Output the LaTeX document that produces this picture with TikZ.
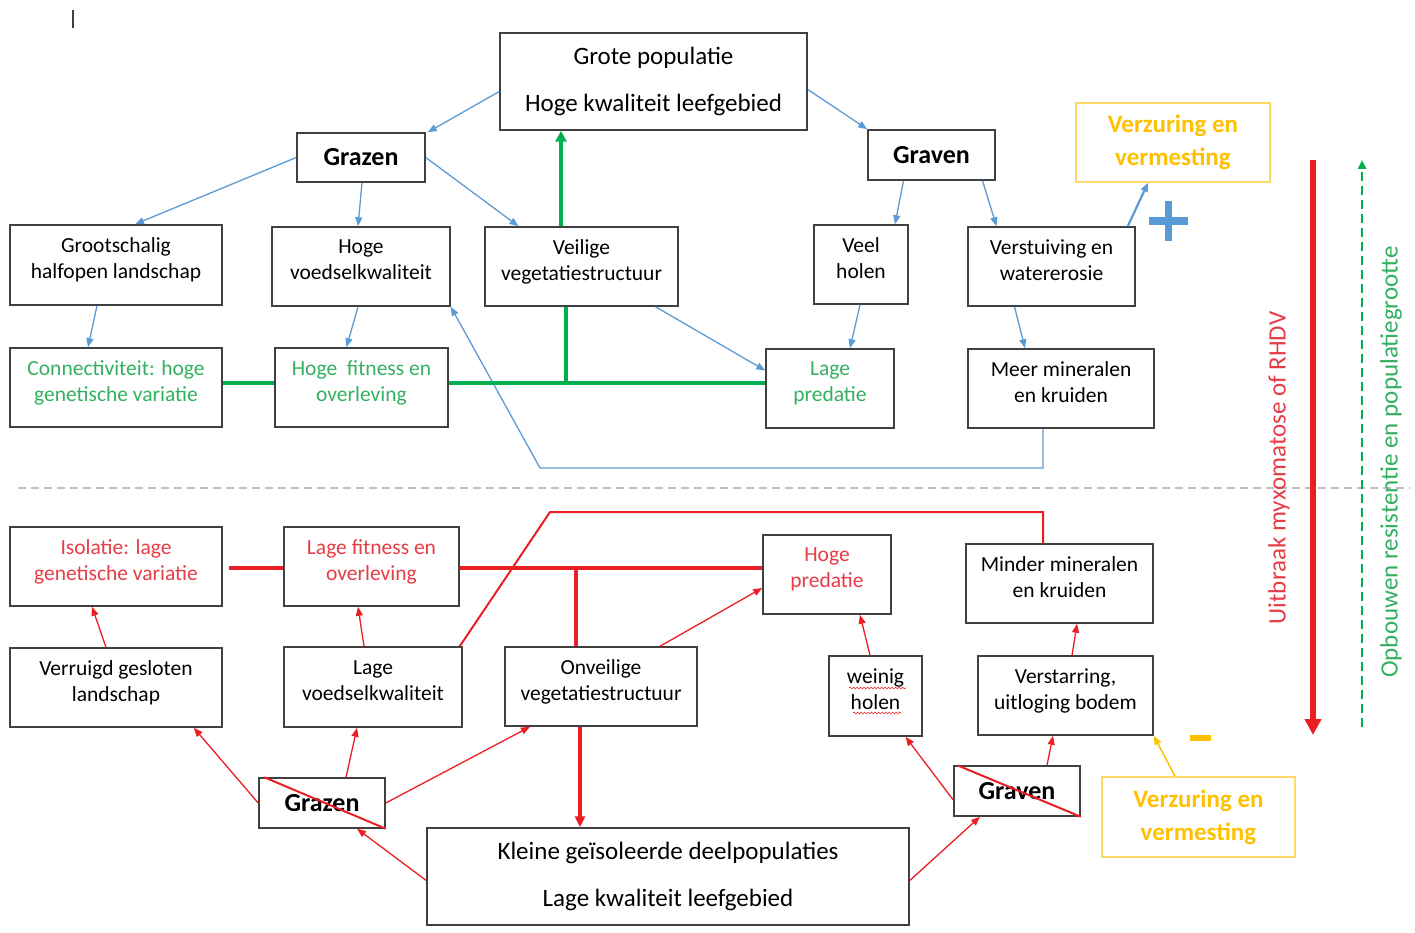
\documentclass[tikz,border=0pt]{standalone}
\usepackage{fontspec}
\setmainfont{Carlito}
\usetikzlibrary{arrows.meta,decorations.pathmorphing}
\definecolor{boxc}{RGB}{64,64,64}
\definecolor{bl}{RGB}{91,155,213}
\definecolor{grl}{RGB}{0,176,80}
\definecolor{grt}{RGB}{50,176,96}
\definecolor{rdl}{RGB}{235,30,35}
\definecolor{rdt}{RGB}{230,60,70}
\definecolor{yt}{RGB}{255,192,0}
\definecolor{yb}{RGB}{255,217,102}
\tikzset{
  box/.style={draw=boxc, line width=1.5pt, align=center, inner sep=0pt, font=\fontsize{21.5}{26}\selectfont,
    execute at end node={\rule[-13pt]{0pt}{1pt}}},
  bigbox/.style={draw=boxc, line width=1.5pt, align=center, inner sep=0pt, font=\fontsize{25}{47}\selectfont},
  boldbox/.style={draw=boxc, line width=1.5pt, align=center, inner sep=0pt, font=\bfseries\fontsize{26}{28}\selectfont},
  ybox/.style={draw=yb, line width=1.5pt, align=center, inner sep=0pt, text=yt, font=\bfseries\fontsize{25}{33}\selectfont},
  barrow/.style={draw=bl, line width=1.3pt, -{Triangle[length=9pt,width=7pt]}},
  rarrow/.style={draw=rdl, line width=1.3pt, -{Triangle[length=9pt,width=7pt]}},
  gthick/.style={draw=grl, line width=4pt},
  rthick/.style={draw=rdl, line width=4pt},
  crossline/.style={draw=rdl, line width=2pt},
  wavy/.style={draw=rdl, line width=0.6pt, decorate, decoration={snake, amplitude=0.9pt, segment length=3.5pt}},
}
\begin{document}
\begin{tikzpicture}[x=1pt,y=-1pt]
\useasboundingbox (0,0) rectangle (1415,933);
% cursor mark
\draw[line width=1.8pt, boxc] (73,10) -- (73,28);
% separator
\draw[gray!50, line width=1.2pt, dash pattern=on 8pt off 5pt] (18,488) -- (1410,488);

% ---------- top half ----------
\node[bigbox, minimum width=307pt, minimum height=97pt] (grote) at (653.5,81.5) {Grote populatie\\Hoge kwaliteit leefgebied};
\node[boldbox, minimum width=128pt, minimum height=49pt] (grazenT) at (361,157.5) {Grazen};
\node[boldbox, minimum width=127pt, minimum height=50pt] (gravenT) at (931.5,155) {Graven};
\node[ybox, minimum width=194pt, minimum height=79pt] (verzT) at (1173,142.5) {Verzuring en\\vermesting};
\node[box, minimum width=212pt, minimum height=80pt] (groot) at (116,265) {Grootschalig\\halfopen landschap};
\node[box, minimum width=178pt, minimum height=79pt] (hvoed) at (361,266.5) {Hoge\\voedselkwaliteit};
\node[box, minimum width=193pt, minimum height=79pt] (veilig) at (581.5,266.5) {Veilige\\vegetatiestructuur};
\node[box, minimum width=94pt, minimum height=79pt] (veel) at (861,264.5) {Veel\\holen};
\node[box, minimum width=167pt, minimum height=79pt] (verst) at (1051.5,266.5) {Verstuiving en\\watererosie};
\node[box, text=grt, minimum width=212pt, minimum height=79pt] (conn) at (116,387.5) {Connectiviteit: hoge\\genetische variatie};
\node[box, text=grt, minimum width=173pt, minimum height=79pt] (hfit) at (361.5,387.5) {Hoge~ fitness en\\overleving};
\node[box, text=grt, minimum width=128pt, minimum height=79pt] (lpred) at (830,388.5) {Lage\\predatie};
\node[box, minimum width=186pt, minimum height=79pt] (meer) at (1061,388.5) {Meer mineralen\\en kruiden};

% blue connectors
\draw[barrow] ([yshift=-10pt]grote.west) -- ([xshift=2pt]grazenT.north east);
\draw[barrow] ([yshift=-8pt]grote.east) -- (gravenT.north west);
\draw[barrow] (grazenT.west) -- ([xshift=19pt]groot.north);
\draw[barrow] ([xshift=1pt]grazenT.south) -- ([xshift=-3pt]hvoed.north);
\draw[barrow] (grazenT.east) -- ([xshift=-63pt]veilig.north);
\draw[barrow] ([xshift=-28pt]gravenT.south) -- ([xshift=34pt]veel.north);
\draw[barrow] ([xshift=51pt]gravenT.south) -- ([xshift=-55pt]verst.north);
\draw[barrow, line width=2.2pt] ([xshift=-8pt]verst.north east) -- ([xshift=-25pt]verzT.south);
\draw[barrow] ([xshift=-19pt]groot.south) -- ([xshift=-28pt]conn.north);
\draw[barrow] ([xshift=-3pt]hvoed.south) -- ([xshift=-15pt]hfit.north);
\draw[barrow] ([xshift=74pt]veilig.south) -- ([yshift=18pt]lpred.west);
\draw[barrow] ([xshift=-1pt]veel.south) -- ([xshift=20pt]lpred.north);
\draw[barrow] ([xshift=-37pt]verst.south) -- ([xshift=-36pt]meer.north);
\coordinate (rb1) at (1043,468);
\coordinate (rb2) at (540,468);
\draw[barrow] ([xshift=-18pt]meer.south) -- (rb1) -- (rb2) -- (hvoed.south east);

% green
\draw[gthick] ([yshift=4.5pt]conn.east) -- ([yshift=4.5pt]hfit.west);
\draw[gthick] ([yshift=4.5pt]hfit.east) -- ([yshift=5.5pt]lpred.west);
\draw[gthick] ([xshift=-15.5pt]veilig.south) -- ++(0,77);
\draw[draw=grl, line width=4pt, -{Triangle[length=11pt,width=11pt]}] ([xshift=-20.5pt]veilig.north) -- ([xshift=-92.5pt]grote.south);

% plus sign
\draw[bl, line width=7.5pt] (1149,221) -- (1188,221);
\draw[bl, line width=7.5pt] (1168.5,201) -- (1168.5,241);

% ---------- bottom half ----------
\node[box, text=rdt, minimum width=212pt, minimum height=79pt] (iso) at (116,566.5) {Isolatie: lage\\genetische variatie};
\node[box, text=rdt, minimum width=175pt, minimum height=79pt] (lfit) at (371.5,566.5) {Lage fitness en\\overleving};
\node[box, text=rdt, minimum width=128pt, minimum height=79pt] (hpred) at (827,574.5) {Hoge\\predatie};
\node[box, minimum width=187pt, minimum height=79pt] (minder) at (1059.5,583.5) {Minder mineralen\\en kruiden};
\node[box, minimum width=212pt, minimum height=79pt] (verr) at (116,687.5) {Verruigd gesloten\\landschap};
\node[box, minimum width=178pt, minimum height=80pt] (lvoed) at (373,687) {Lage\\voedselkwaliteit};
\node[box, minimum width=192pt, minimum height=79pt] (onv) at (601,686.5) {Onveilige\\vegetatiestructuur};
\node[box, minimum width=93pt, minimum height=80pt] (weinig) at (875.5,696) {weinig\\holen};
\node[box, minimum width=175pt, minimum height=79pt] (verstar) at (1065.5,695.5) {Verstarring,\\uitloging bodem};
\node[boldbox, minimum width=126pt, minimum height=50pt] (grazenB) at (322,803) {Grazen};
\node[boldbox, minimum width=126pt, minimum height=50pt] (gravenB) at (1017,791) {Graven};
\node[bigbox, minimum width=482pt, minimum height=97pt] (kleine) at (668,876.5) {Kleine geïsoleerde deelpopulaties\\Lage kwaliteit leefgebied};
\node[ybox, minimum width=193pt, minimum height=80pt] (verzB) at (1198.5,817) {Verzuring en\\vermesting};

% spell-check wavy underlines
\coordinate (w1a) at (849,688);
\coordinate (w1b) at (906,688);
\coordinate (w2a) at (853,713);
\coordinate (w2b) at (901,713);
\draw[wavy] (w1a) -- (w1b);
\draw[wavy] (w2a) -- (w2b);

% crossing lines
\draw[crossline] ([xshift=6pt]grazenB.north west) -- (grazenB.south east);
\draw[crossline] ([xshift=4pt]gravenB.north west) -- (gravenB.south east);

% red thick
\draw[rthick] ([xshift=6pt,yshift=-1.5pt]iso.east) -- ([yshift=-1.5pt]lfit.west);
\draw[rthick] ([yshift=-1.5pt]lfit.east) -- ([yshift=6.5pt]hpred.west);
\draw[rthick] ([xshift=-25pt]onv.north) -- ++(0,-79);
\draw[draw=rdl, line width=3.5pt, -{Triangle[length=11pt,width=10pt]}] ([xshift=-21pt]onv.south) -- ([xshift=-88pt]kleine.north);

% red thin arrows
\draw[rarrow] ([xshift=-10pt]verr.north) -- ([xshift=-24pt]iso.south);
\draw[rarrow] ([xshift=-9pt]lvoed.north) -- ([xshift=-13.5pt]lfit.south);
\draw[rarrow] ([xshift=59pt]onv.north) -- ([yshift=-13.5pt]hpred.west);
\draw[rarrow] ([xshift=-5.5pt]weinig.north) -- ([xshift=33pt]hpred.south);
\draw[rarrow] ([xshift=6.5pt]verstar.north) -- ([xshift=17.5pt]minder.south);
\draw[rarrow] (grazenB.west) -- ([xshift=-29pt]verr.south east);
\draw[rarrow] ([xshift=24pt]grazenB.north) -- ([xshift=-16pt]lvoed.south);
\draw[rarrow] (grazenB.east) -- ([xshift=-71pt]onv.south);
\draw[rarrow] ([yshift=-4pt]kleine.west) -- ([xshift=35pt]grazenB.south);
\draw[rarrow] ([yshift=-4pt]kleine.east) -- ([xshift=-37pt]gravenB.south);
\draw[rarrow] ([yshift=-9pt]gravenB.west) -- ([xshift=30pt]weinig.south);
\draw[rarrow] ([xshift=30pt]gravenB.north) -- ([xshift=-12.5pt]verstar.south);
\coordinate (rl1) at (550,512);
\coordinate (rl2) at (1043,512);
\draw[rdl, line width=2pt] ([xshift=-3pt]lvoed.north east) -- (rl1) -- (rl2) -- ([xshift=-16.5pt]minder.north);

% yellow
\draw[draw=yt, line width=1.5pt, -{Triangle[length=9pt,width=7pt]}] ([xshift=-23.5pt]verzB.north) -- (verstar.south east);
\draw[yt, line width=6pt] (1190,738) -- (1211,738);

% side arrows
\coordinate (ra1) at (1313,160);
\coordinate (ra2) at (1313,735);
\draw[draw=rdl, line width=6pt, -{Triangle[length=16pt,width=16pt]}] (ra1) -- (ra2);
\coordinate (ga1) at (1362,727);
\coordinate (ga2) at (1362,160);
\draw[draw=grl, line width=2.5pt, dash pattern=on 9pt off 5pt, -{Triangle[length=9pt,width=8pt]}] (ga1) -- (ga2);
\node[rotate=90, text=rdt, font=\fontsize{25}{28}\selectfont] (lblR) at (1279,468) {Uitbraak myxomatose of RHDV};
\node[rotate=90, text=grt, font=\fontsize{25}{28}\selectfont] (lblG) at (1391,462) {Opbouwen resistentie en populatiegrootte};
\end{tikzpicture}
\end{document}
